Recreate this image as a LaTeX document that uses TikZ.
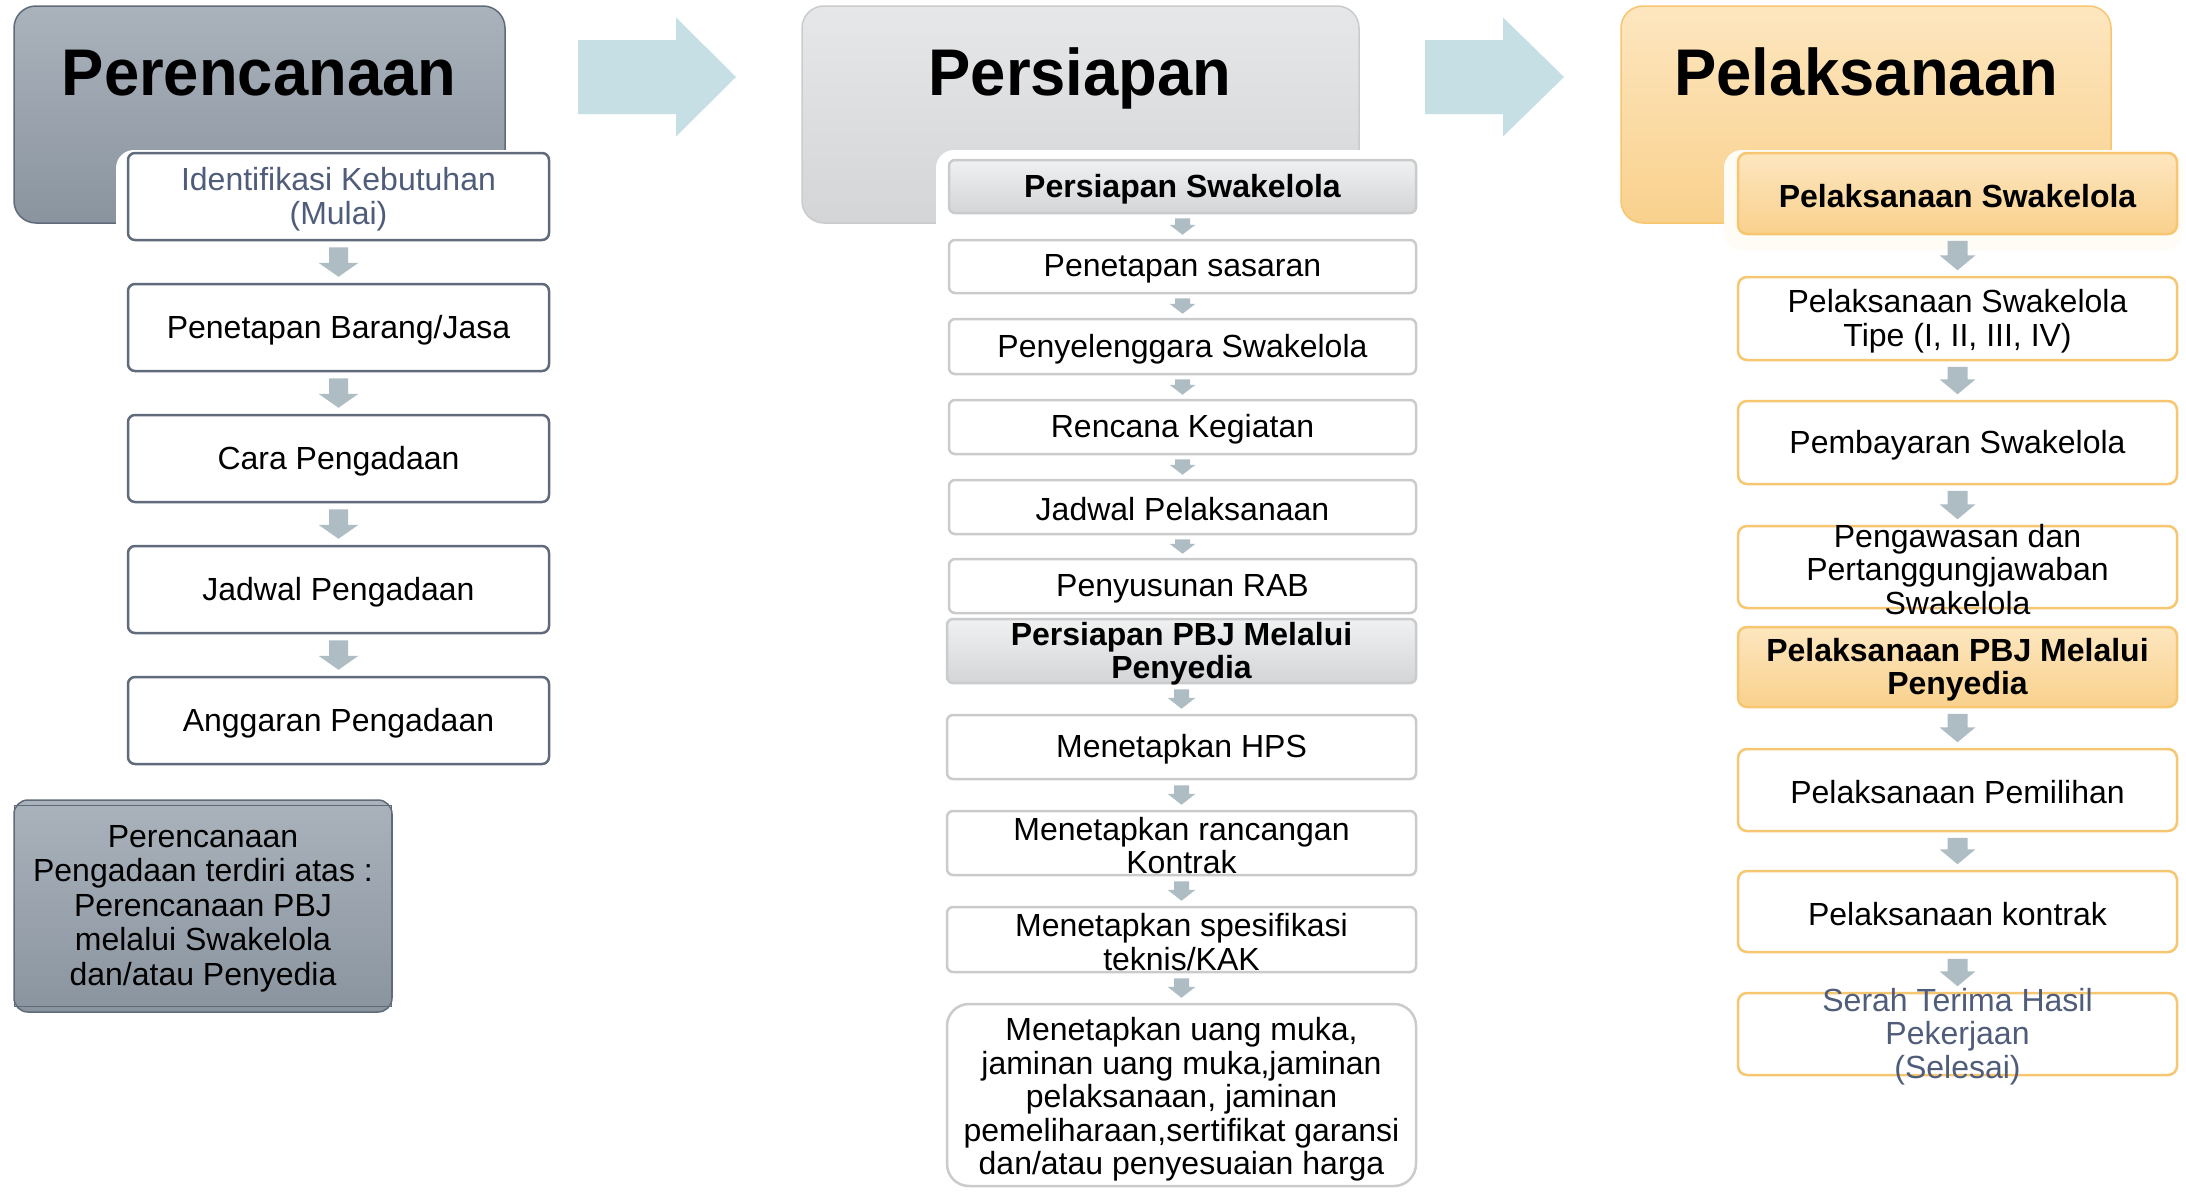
\documentclass[tikz,border=0pt]{standalone}
\usepackage{fontspec}
\setmainfont{Liberation Sans}
\usepackage{graphicx}
\usetikzlibrary{calc}

\definecolor{hdAt}{HTML}{AAB3BC}
\definecolor{hdAb}{HTML}{8A949F}
\definecolor{bdA}{HTML}{5F6B7A}
\definecolor{hdBt}{HTML}{E6E7E8}
\definecolor{hdBb}{HTML}{D3D5D7}
\definecolor{bdB}{HTML}{C9CBCD}
\definecolor{hdCt}{HTML}{FDE6BF}
\definecolor{hdCb}{HTML}{F9D18D}
\definecolor{bdC}{HTML}{F6C670}
\definecolor{arrowc}{HTML}{AEBCC3}
\definecolor{bigarrowc}{HTML}{C6DFE5}
\definecolor{slate}{HTML}{4F5D7B}
\definecolor{cream}{HTML}{FFFCF6}

% #1 from node, #2 to node, #3 head width, #4 shaft width, #5 head length, #6 gap
\newcommand{\blockdown}[6]{%
  \fill[arrowc] let \p1=([yshift=-#6]#1.south), \p2=([yshift=#6]#2.north) in
    (\x1-#4/2,\y1) -- (\x1+#4/2,\y1) -- (\x1+#4/2,\y2+#5) -- (\x1+#3/2,\y2+#5)
    -- (\x1,\y2) -- (\x1-#3/2,\y2+#5) -- (\x1-#4/2,\y2+#5) -- cycle;}
% #1 start coord, #2 end coord, #3 head width, #4 shaft width, #5 head length
\newcommand{\blockright}[5]{%
  \fill[bigarrowc] let \p1=(#1), \p2=(#2) in
    (\x1,\y1-#4/2) -- (\x2-#5,\y1-#4/2) -- (\x2-#5,\y1-#3/2) -- (\x2,\y1)
    -- (\x2-#5,\y1+#3/2) -- (\x2-#5,\y1+#4/2) -- (\x1,\y1+#4/2) -- cycle;}

\begin{document}
\begin{tikzpicture}[x=1pt,y=-1pt,
  hdr/.style={rounded corners=22pt, line width=1.5pt, minimum height=217pt, inner sep=0pt},
  ttl/.style={anchor=base, inner sep=0pt, font=\fontsize{66}{70}\selectfont\bfseries},
  box1/.style={draw=bdA, line width=2.5pt, fill=white, rounded corners=7pt,
    minimum width=421pt, minimum height=87pt, inner sep=0pt},
  box2/.style={draw=bdB, line width=2.5pt, fill=white, rounded corners=6pt,
    minimum width=467pt, inner sep=0pt},
  grey2/.style={box2, top color=hdBt!60!white, bottom color=hdBb},
  box3/.style={draw=bdC, line width=2.5pt, fill=white, rounded corners=9pt,
    minimum width=439pt, minimum height=82pt, inner sep=0pt},
  orange3/.style={box3, top color=hdCt, bottom color=hdCb},
  txt/.style={align=center, inner sep=0pt, yshift=-2.5pt, font=\fontsize{32}{33.5}\selectfont},
  txtb/.style={align=center, inner sep=0pt, yshift=-2.5pt, font=\fontsize{32}{33.5}\selectfont\bfseries}
]
\useasboundingbox (0,0) rectangle (2186,1191);
\fill[white] (0,0) rectangle (2186,1191);

% ---------- headers ----------
\node[hdr, minimum width=491pt, draw=bdA, top color=hdAt, bottom color=hdAb] (h1) at (259.5,114.5) {};
\node[hdr, minimum width=557pt, draw=bdB, top color=hdBt, bottom color=hdBb] (h2) at (1080.5,114.5) {};
\node[hdr, minimum width=490pt, draw=bdC, top color=hdCt, bottom color=hdCb] (h3) at (1866,114.5) {};
\node[ttl] (h1t) at (259,95) {\scalebox{0.96}[1]{Perencanaan}};
\node[ttl] (h2t) at (1080,95) {\scalebox{0.96}[1]{Persiapan}};
\node[ttl] (h3t) at (1866,95) {\scalebox{0.96}[1]{Pelaksanaan}};

% white list backgrounds
\fill[white, rounded corners=18pt] (116,150) rectangle (562,250);
\fill[white, rounded corners=18pt] (936,150) rectangle (1422,250);
\fill[cream, rounded corners=18pt] (1724,150) rectangle (2182,250);

% big arrows
\coordinate (a1s) at (578,77);
\coordinate (a1e) at (736,77);
\coordinate (a2s) at (1425,77);
\coordinate (a2e) at (1564,77);
\blockright{a1s}{a1e}{119pt}{74pt}{60pt}
\blockright{a2s}{a2e}{119pt}{74pt}{61pt}

% ---------- column 1 ----------
\node[box1] (c1a) at (338.5,196.5) {};
\node[box1] (c1b) at (338.5,327.5) {};
\node[box1] (c1c) at (338.5,458.5) {};
\node[box1] (c1d) at (338.5,589.5) {};
\node[box1] (c1e) at (338.5,720.5) {};
\node[txt, text=slate] (t1a) at (c1a.center) {Identifikasi Kebutuhan\\(Mulai)};
\node[txt] (t1b) at (c1b.center) {Penetapan Barang/Jasa};
\node[txt] (t1c) at (c1c.center) {Cara Pengadaan};
\node[txt] (t1d) at (c1d.center) {Jadwal Pengadaan};
\node[txt] (t1e) at (c1e.center) {Anggaran Pengadaan};
\blockdown{c1a}{c1b}{40pt}{19pt}{14pt}{6pt}
\blockdown{c1b}{c1c}{40pt}{19pt}{14pt}{6pt}
\blockdown{c1c}{c1d}{40pt}{19pt}{14pt}{6pt}
\blockdown{c1d}{c1e}{40pt}{19pt}{14pt}{6pt}

\node[draw=bdA, line width=1.5pt, rounded corners=14pt, top color=hdAt, bottom color=hdAb,
  minimum width=378pt, minimum height=212pt, inner sep=0pt] (n1) at (203,906) {};
\draw[bdA, line width=1pt] ([shift={(1pt,-6pt)}]n1.north west) rectangle ([shift={(-1pt,6pt)}]n1.south east);
\node[align=center, inner sep=0pt, yshift=-2.5pt, font=\fontsize{32}{34.5}\selectfont] (n1t) at (n1.center)
  {Perencanaan\\Pengadaan terdiri atas :\\Perencanaan PBJ\\melalui Swakelola\\dan/atau Penyedia};

% ---------- column 2 ----------
\node[grey2, minimum height=53pt] (s2h) at (1182.5,186.5) {};
\node[box2, minimum height=53pt] (c2a) at (1182.5,266.5) {};
\node[box2, minimum height=55pt] (c2b) at (1182.5,346.5) {};
\node[box2, minimum height=54pt] (c2c) at (1182.5,427) {};
\node[box2, minimum height=54pt] (c2d) at (1182.5,507) {};
\node[box2, minimum height=54pt] (c2e) at (1182.5,586) {};
\node[grey2, minimum width=469pt, minimum height=64pt] (p2h) at (1181.5,651) {};
\node[box2, minimum width=469pt, minimum height=64pt] (c2f) at (1181.5,747) {};
\node[box2, minimum width=469pt, minimum height=64pt] (c2g) at (1181.5,843) {};
\node[box2, minimum width=469pt, minimum height=65pt] (c2h) at (1181.5,939.5) {};
\node[box2, minimum width=469pt, minimum height=182pt, rounded corners=22pt] (c2i) at (1181.5,1095) {};

\node[txtb] (t2h) at (s2h.center) {Persiapan Swakelola};
\node[txt] (t2a) at (c2a.center) {Penetapan sasaran};
\node[txt] (t2b) at (c2b.center) {Penyelenggara Swakelola};
\node[txt] (t2c) at (c2c.center) {Rencana Kegiatan};
\node[txt] (t2d) at (c2d.center) {Jadwal Pelaksanaan};
\node[txt] (t2e) at (c2e.center) {Penyusunan RAB};
\node[txtb] (t2p) at (p2h.center) {Persiapan PBJ Melalui\\Penyedia};
\node[txt] (t2f) at (c2f.center) {Menetapkan HPS};
\node[txt] (t2g) at (c2g.center) {Menetapkan rancangan\\Kontrak};
\node[txt] (t2hh) at (c2h.center) {Menetapkan spesifikasi\\teknis/KAK};
\node[txt] (t2i) at ([yshift=-2pt]c2i.center) {Menetapkan uang muka,\\jaminan uang muka,jaminan\\pelaksanaan, jaminan\\pemeliharaan,sertifikat garansi\\dan/atau penyesuaian harga};

\blockdown{s2h}{c2a}{26pt}{15pt}{10pt}{4pt}
\blockdown{c2a}{c2b}{26pt}{15pt}{10pt}{4pt}
\blockdown{c2b}{c2c}{26pt}{15pt}{10pt}{4pt}
\blockdown{c2c}{c2d}{26pt}{15pt}{10pt}{4pt}
\blockdown{c2d}{c2e}{26pt}{15pt}{10pt}{4pt}
\blockdown{p2h}{c2f}{28pt}{15pt}{11pt}{5pt}
\blockdown{c2f}{c2g}{28pt}{15pt}{11pt}{5pt}
\blockdown{c2g}{c2h}{28pt}{15pt}{11pt}{5pt}
\blockdown{c2h}{c2i}{28pt}{15pt}{11pt}{5pt}

% ---------- column 3 ----------
\node[orange3, minimum height=81pt] (s3h) at (1957.5,193.5) {};
\node[box3, minimum height=83pt] (c3a) at (1957.5,318.5) {};
\node[box3, minimum height=83pt] (c3b) at (1957.5,442.5) {};
\node[box3] (c3c) at (1957.5,567) {};
\node[orange3, minimum height=80pt] (p3h) at (1957.5,667) {};
\node[box3] (c3d) at (1957.5,790) {};
\node[box3, minimum height=81pt] (c3e) at (1957.5,911.5) {};
\node[box3] (c3f) at (1957.5,1034) {};

\node[txtb] (t3h) at (s3h.center) {Pelaksanaan Swakelola};
\node[txt] (t3a) at (c3a.center) {Pelaksanaan Swakelola\\Tipe (I, II, III, IV)};
\node[txt] (t3b) at (c3b.center) {Pembayaran Swakelola};
\node[txt] (t3c) at (c3c.center) {Pengawasan dan\\Pertanggungjawaban\\Swakelola};
\node[txtb] (t3p) at (p3h.center) {Pelaksanaan PBJ Melalui\\Penyedia};
\node[txt] (t3d) at (c3d.center) {Pelaksanaan Pemilihan};
\node[txt] (t3e) at (c3e.center) {Pelaksanaan kontrak};
\node[txt, text=slate] (t3f) at (c3f.center) {Serah Terima Hasil\\Pekerjaan\\(Selesai)};

\blockdown{s3h}{c3a}{36pt}{20pt}{15pt}{5.5pt}
\blockdown{c3a}{c3b}{36pt}{20pt}{15pt}{5.5pt}
\blockdown{c3b}{c3c}{36pt}{20pt}{15pt}{5.5pt}
\blockdown{p3h}{c3d}{36pt}{20pt}{15pt}{5.5pt}
\blockdown{c3d}{c3e}{36pt}{20pt}{15pt}{5.5pt}
\blockdown{c3e}{c3f}{36pt}{20pt}{15pt}{5.5pt}
\end{tikzpicture}
\end{document}
